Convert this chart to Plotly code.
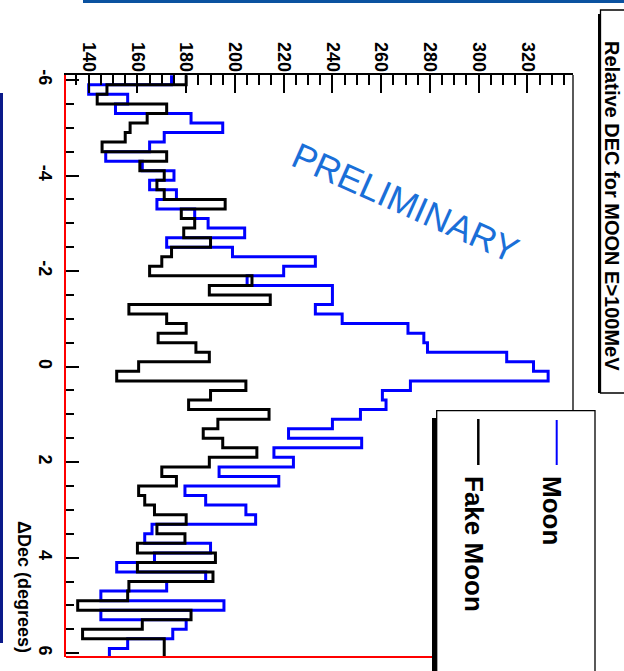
import plotly.graph_objects as go

# ---------------- data ----------------
dec_centers = [-6.0, -5.8, -5.6, -5.4, -5.2, -5.0, -4.8, -4.6, -4.4, -4.2,
               -4.0, -3.8, -3.6, -3.4, -3.2, -3.0, -2.8, -2.6, -2.4, -2.2,
               -2.0, -1.8, -1.6, -1.4, -1.2, -1.0, -0.8, -0.6, -0.4, -0.2,
               0.0, 0.2, 0.4, 0.6, 0.8, 1.0, 1.2, 1.4, 1.6, 1.8,
               2.0, 2.2, 2.4, 2.6, 2.8, 3.0, 3.2, 3.4, 3.6, 3.8,
               4.0, 4.2, 4.4, 4.6, 4.8, 5.0, 5.2, 5.4, 5.6, 5.8, 6.0]

moon = [174, 140, 156, 151, 182, 195, 171, 165, 147, 162,
        175, 165, 176, 168, 183.5, 189, 204, 172, 199, 233,
        220, 205, 240, 240, 233, 244, 271, 277.5, 279, 311.5,
        322.5, 328.5, 272, 260.5, 262, 251.5, 240, 222, 252, 216,
        224, 193.5, 218, 179.5, 188, 204.5, 208.5, 166, 163, 190,
        167, 151.5, 188, 172, 145, 195.5, 145, 180, 174.5, 156, 148.5]

fake_moon = [180, 147.5, 143.5, 172, 164, 157, 155, 145.5, 172, 161,
             171, 168, 171, 196, 178, 183.5, 179, 190, 174, 170,
             165, 207, 189.5, 214.5, 156.5, 172, 180, 168.5, 184, 189.5,
             160.5, 151.5, 204.5, 190, 181, 214, 193, 187, 195, 209,
             189.5, 170, 176, 160.5, 163, 167, 180, 168, 179.5, 160,
             192, 160, 191, 156.5, 156, 135.5, 182, 162, 137.5, 171, 171]

dec_ticks = [-6, -4, -2, 0, 2, 4, 6]
dec_ticklabels = ["-6", "-4", "-2", "0", "2", "4", "6"]

title_text = "Relative DEC for MOON E>100MeV"
axis_title = "\u0394Dec (degrees)"
series_names = ["Moon", "Fake Moon"]
watermark = "PRELIMINARY"

# ---------------- geometry ----------------
FW, FH = 624, 671
L, R, T, B = 66, 573, 75, 657

def px(x):
    return (x - L) / (R - L)

def py(y):
    return 1 - (y - T) / (B - T)

FONT = "Liberation Sans, Arial, Helvetica, sans-serif"
half_bin = 0.1
edges = [c - half_bin for c in dec_centers] + [dec_centers[-1] + half_bin]

fig = go.Figure()
fig.add_trace(go.Scatter(x=moon + [moon[-1]], y=edges, mode="lines",
                         line=dict(color="#0000ff", width=3, shape="vh"),
                         name=series_names[0], showlegend=False))
fig.add_trace(go.Scatter(x=fake_moon + [fake_moon[-1]], y=edges, mode="lines",
                         line=dict(color="#000000", width=3, shape="vh"),
                         name=series_names[1], showlegend=False))

tickfont = dict(family=FONT, size=18, color="black", weight="bold")

fig.update_xaxes(side="top", range=[130.7, 338.7], tickmode="linear", tick0=140, dtick=20,
                 ticks="inside", ticklen=18, tickwidth=1.5, tickcolor="black",
                 showline=True, linecolor="black", linewidth=1.5,
                 tickangle=90, tickfont=tickfont, ticklabelstandoff=-5,
                 minor=dict(tick0=140, dtick=5, ticks="inside", ticklen=10,
                            tickwidth=1.5, tickcolor="black"),
                 showgrid=False, zeroline=False)

dec_minor = [v / 2 for v in range(-12, 13)]
fig.update_yaxes(range=[6.08, -6.105], tickmode="array", tickvals=dec_ticks,
                 ticktext=dec_ticklabels, ticks="inside", ticklen=13, tickwidth=1.5,
                 tickcolor="black", showline=True, linecolor="red", linewidth=2,
                 tickangle=90, tickfont=tickfont, ticklabelstandoff=3,
                 minor=dict(tickvals=dec_minor, ticks="inside", ticklen=8,
                            tickwidth=1.5, tickcolor="black"),
                 showgrid=False, zeroline=False)

shapes = []
# frame right & bottom
shapes.append(dict(type="line", xref="paper", yref="paper", x0=1, x1=1, y0=0, y1=1,
                   line=dict(color="black", width=1.3)))
shapes.append(dict(type="line", xref="paper", yref="paper", x0=0, x1=1, y0=0, y1=0,
                   line=dict(color="red", width=2)))
# slide decorations
shapes.append(dict(type="rect", xref="paper", yref="paper", x0=px(83), x1=px(626),
                   y0=py(-2), y1=py(3), fillcolor="#0a52a0", line=dict(width=0)))
shapes.append(dict(type="rect", xref="paper", yref="paper", x0=px(-2), x1=px(3),
                   y0=py(93), y1=py(643), fillcolor="#0b1a8a", line=dict(width=0)))
# title box
shapes.append(dict(type="rect", xref="paper", yref="paper", x0=px(598), x1=px(601),
                   y0=py(14), y1=py(393), fillcolor="black", line=dict(width=0)))
shapes.append(dict(type="rect", xref="paper", yref="paper", x0=px(600.5), x1=px(630),
                   y0=py(10), y1=py(393), fillcolor="white", line=dict(color="black", width=1.3)))
# legend box
shapes.append(dict(type="rect", xref="paper", yref="paper", x0=px(432), x1=px(437),
                   y0=py(418), y1=py(680), fillcolor="black", line=dict(width=0)))
shapes.append(dict(type="rect", xref="paper", yref="paper", x0=px(436.7), x1=px(595),
                   y0=py(410.7), y1=py(680), fillcolor="white", line=dict(color="black", width=1.3)))
shapes.append(dict(type="line", xref="paper", yref="paper", x0=px(556.7), x1=px(556.7),
                   y0=py(420), y1=py(465), line=dict(color="#0000ff", width=2)))
shapes.append(dict(type="line", xref="paper", yref="paper", x0=px(478.3), x1=px(478.3),
                   y0=py(419), y1=py(465), line=dict(color="black", width=2.5)))

annotations = [
    dict(text=title_text, x=px(612), y=py(206), xref="paper", yref="paper",
         textangle=90, showarrow=False, xanchor="center", yanchor="middle",
         font=dict(family=FONT, size=20, color="black", weight="bold")),
    dict(text=axis_title, x=px(24), y=py(587), xref="paper", yref="paper",
         textangle=90, showarrow=False, xanchor="center", yanchor="middle",
         font=dict(family=FONT, size=18, color="black", weight="bold")),
    dict(text=series_names[0], x=px(552), y=py(510), xref="paper", yref="paper",
         textangle=90, showarrow=False, xanchor="center", yanchor="middle",
         font=dict(family=FONT, size=26, color="black", weight="bold")),
    dict(text=series_names[1], x=px(474), y=py(544), xref="paper", yref="paper",
         textangle=90, showarrow=False, xanchor="center", yanchor="middle",
         font=dict(family=FONT, size=26, color="black", weight="bold")),
    dict(text=watermark, x=px(405), y=py(202), xref="paper", yref="paper",
         textangle=24, showarrow=False, xanchor="center", yanchor="middle",
         font=dict(family=FONT, size=36, color="#1a6fd8")),
]

fig.update_layout(width=FW, height=FH, autosize=False,
                  margin=dict(l=L, r=FW - R, t=T, b=FH - B, pad=0),
                  paper_bgcolor="white", plot_bgcolor="white",
                  showlegend=False, shapes=shapes, annotations=annotations)

fig.write_html("out.html", config={"displayModeBar": False},
               post_script="document.body.style.margin='0';document.body.style.overflow='hidden';")
